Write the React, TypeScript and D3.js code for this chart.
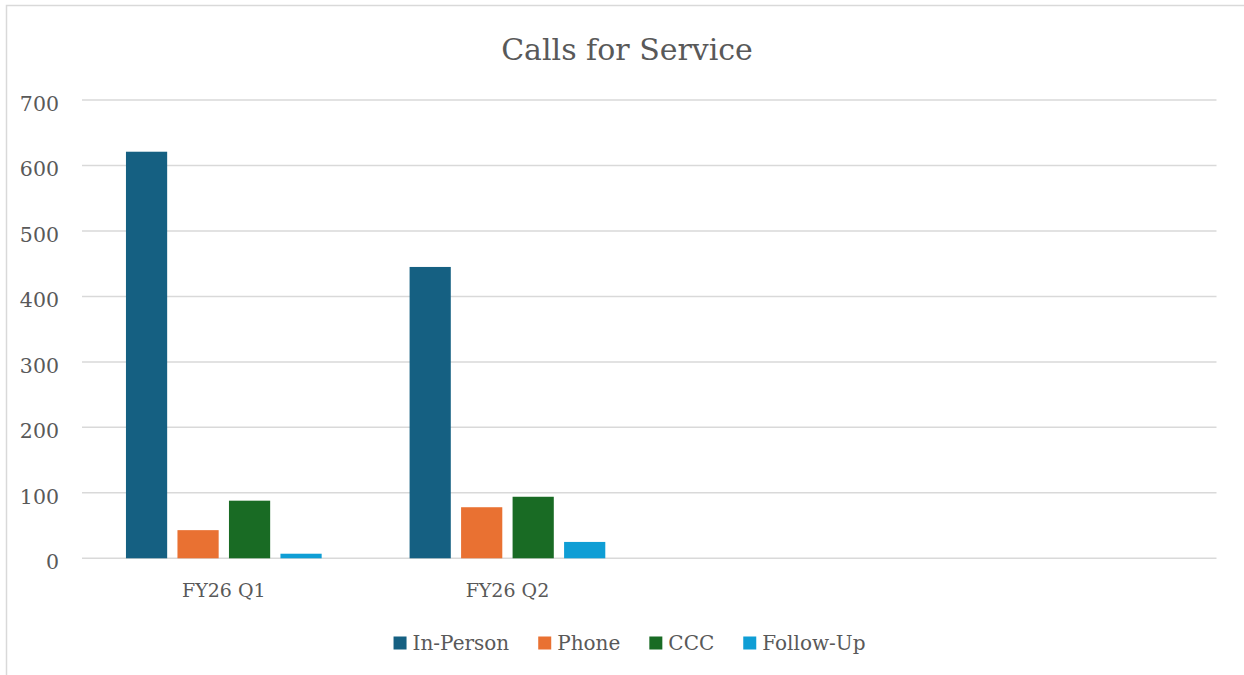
import React, { useEffect, useRef } from "react";
import * as d3 from "d3";

const categories = ["FY26 Q1", "FY26 Q2", "", " "];
const seriesNames = ["In-Person", "Phone", "CCC", "Follow-Up"];
const inPerson = [621, 445, null, null];
const phone = [43, 78, null, null];
const ccc = [88, 94, null, null];
const followUp = [7, 25, null, null];
const yTicks = [0, 100, 200, 300, 400, 500, 600, 700];
const colors = ["#156082", "#E97132", "#196B24", "#0F9ED5"];
const title = "Calls for Service";

const W = 1244;
const H = 675;
const FONT = "'DejaVu Serif', serif";
const TEXT = "#595959";

export default function App() {
  const ref = useRef<SVGSVGElement>(null);

  useEffect(() => {
    const svg = d3.select(ref.current);
    svg.selectAll("*").remove();

    const seriesValues = [inPerson, phone, ccc, followUp];
    const left = 82, right = 1216.5, top = 100, bottom = 558.3;

    // chart border
    svg.append("rect").attr("x", 6.5).attr("y", 5.5).attr("width", W + 20).attr("height", H + 20)
      .attr("fill", "white").attr("stroke", "#d9d9d9").attr("stroke-width", 1.5);

    const y = d3.scaleLinear().domain([0, 700]).range([bottom, top]);
    const x0 = d3.scaleBand().domain(categories).range([left, right]).paddingInner(0).paddingOuter(0);
    const bw = x0.bandwidth();
    const x1 = d3.scaleBand().domain(seriesNames).range([bw * 0.155, bw * 0.845]).paddingInner(0.2).paddingOuter(0);

    // gridlines
    svg.append("g").selectAll("line").data(yTicks).join("line")
      .attr("x1", left).attr("x2", right)
      .attr("y1", (d) => y(d)).attr("y2", (d) => y(d))
      .attr("stroke", "#d9d9d9").attr("stroke-width", 1.5);

    // y labels
    svg.append("g").selectAll("text").data(yTicks).join("text")
      .attr("x", 59).attr("y", (d) => y(d) + 3.5).attr("dy", "0.35em")
      .attr("text-anchor", "end").attr("font-family", FONT).attr("font-size", 20.5)
      .attr("fill", TEXT).text((d) => String(d));

    // bars
    const data = categories.flatMap((c, ci) =>
      seriesNames.map((s, si) => ({ c, s, si, v: seriesValues[si][ci] }))
    ).filter((d) => d.v != null);
    svg.append("g").selectAll("rect").data(data).join("rect")
      .attr("x", (d) => (x0(d.c) as number) + (x1(d.s) as number))
      .attr("width", x1.bandwidth())
      .attr("y", (d) => y(d.v as number))
      .attr("height", (d) => bottom - y(d.v as number))
      .attr("fill", (d) => colors[d.si]);

    // category labels
    svg.append("g").selectAll("text").data(categories).join("text")
      .attr("x", (d) => (x0(d) as number) + bw / 2).attr("y", 597)
      .attr("text-anchor", "middle").attr("font-family", FONT).attr("font-size", 19)
      .attr("fill", TEXT).text((d) => d.trim());

    // title
    svg.append("text").attr("x", 627).attr("y", 60).attr("text-anchor", "middle")
      .attr("font-family", FONT).attr("font-size", 30).attr("fill", TEXT).text(title);

    // legend
    const lg = svg.append("g");
    const items = seriesNames.map((s, i) => {
      const g = lg.append("g");
      g.append("rect").attr("width", 13).attr("height", 13).attr("y", -6.5).attr("fill", colors[i]);
      const t = g.append("text").attr("x", 19).attr("dy", "0.35em")
        .attr("font-family", FONT).attr("font-size", 20).attr("fill", TEXT).text(s);
      const w = 19 + (t.node() as SVGTextElement).getComputedTextLength();
      return { g, w };
    });
    const gap = 29;
    const total = d3.sum(items, (d) => d.w) + gap * (items.length - 1);
    let cx = 629.5 - total / 2;
    items.forEach((it) => {
      it.g.attr("transform", `translate(${cx},643)`);
      cx += it.w + gap;
    });
  }, []);

  return (
    <div style={{ position: "absolute", left: 0, top: 0, width: W, height: H, overflow: "hidden" }}>
      <svg ref={ref} width={W} height={H} style={{ display: "block" }} />
    </div>
  );
}
